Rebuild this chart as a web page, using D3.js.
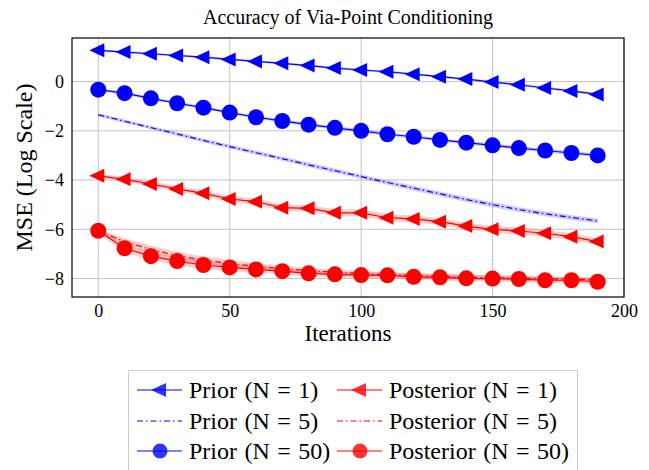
<!DOCTYPE html>
<html>
<head>
<meta charset="utf-8">
<script src="https://cdn.jsdelivr.net/npm/d3@7"></script>
<style>
  body { margin: 0; background: #fff; }
  svg { display: block; }
  svg text { font-family: "Liberation Serif", "Times New Roman", Tinos, "DejaVu Serif", serif !important; }
</style>
</head>
<body>
<svg id="chart" width="649" height="470"></svg>
<script>
// iterations (x) shared by all series
const iterations = [0, 10, 20, 30, 40, 50, 60, 70, 80, 90, 100, 110, 120, 130, 140, 150, 160, 170, 180, 190];

// log MSE means
const priorN1 = [1.27, 1.2, 1.13, 1.06, 0.99, 0.9, 0.82, 0.74, 0.65, 0.55, 0.47, 0.4, 0.3, 0.2, 0.1, -0.02, -0.13, -0.26, -0.38, -0.52];
const priorN5 = [-1.35, -1.61, -1.87, -2.13, -2.39, -2.64, -2.89, -3.13, -3.38, -3.62, -3.86, -4.1, -4.33, -4.56, -4.79, -5.0, -5.2, -5.37, -5.52, -5.66];
const priorN50 = [-0.33, -0.47, -0.68, -0.88, -1.06, -1.26, -1.45, -1.6, -1.75, -1.88, -2.0, -2.14, -2.24, -2.37, -2.48, -2.59, -2.7, -2.8, -2.9, -3.0];
const postN1 = [-3.83, -3.97, -4.16, -4.36, -4.54, -4.77, -4.88, -5.12, -5.15, -5.33, -5.33, -5.53, -5.58, -5.69, -5.87, -6.0, -6.07, -6.16, -6.3, -6.5];
const postN5 = [-6.06, -6.5, -6.82, -7.07, -7.25, -7.39, -7.5, -7.6, -7.68, -7.74, -7.8, -7.84, -7.88, -7.91, -7.94, -7.97, -7.99, -8.01, -8.03, -8.05];
const postN50 = [-6.06, -6.77, -7.09, -7.29, -7.45, -7.55, -7.63, -7.7, -7.79, -7.83, -7.86, -7.87, -7.93, -7.95, -7.99, -8.0, -8.02, -8.07, -8.07, -8.13];

// spread (half width of shaded band)
const priorN1Spread = [0.05, 0.05, 0.05, 0.05, 0.05, 0.05, 0.05, 0.05, 0.05, 0.05, 0.05, 0.05, 0.05, 0.05, 0.05, 0.05, 0.05, 0.05, 0.05, 0.06];
const priorN5Spread = [0.07, 0.07, 0.07, 0.08, 0.08, 0.08, 0.08, 0.09, 0.09, 0.09, 0.09, 0.09, 0.1, 0.1, 0.1, 0.1, 0.1, 0.1, 0.1, 0.1];
const priorN50Spread = [0.06, 0.06, 0.06, 0.06, 0.06, 0.06, 0.06, 0.07, 0.07, 0.07, 0.07, 0.07, 0.07, 0.07, 0.07, 0.08, 0.08, 0.08, 0.08, 0.08];
const postN1Spread = [0.08, 0.1, 0.1, 0.12, 0.12, 0.12, 0.13, 0.13, 0.13, 0.14, 0.14, 0.14, 0.14, 0.14, 0.14, 0.14, 0.14, 0.14, 0.14, 0.14];
const postN5Spread = [0.08, 0.14, 0.16, 0.16, 0.15, 0.14, 0.13, 0.12, 0.12, 0.11, 0.11, 0.1, 0.1, 0.1, 0.1, 0.1, 0.1, 0.1, 0.1, 0.1];
const postN50Spread = [0.1, 0.16, 0.18, 0.17, 0.16, 0.15, 0.14, 0.13, 0.13, 0.12, 0.12, 0.12, 0.12, 0.12, 0.12, 0.12, 0.12, 0.12, 0.12, 0.12];

const xTicks = [0, 50, 100, 150, 200];
const yTicks = [-8, -6, -4, -2, 0];

const series = [
    { name: "Prior (N = 1)", values: priorN1, spread: priorN1Spread, color: "#0000ff", marker: "triangle", dash: null },
    { name: "Posterior (N = 1)", values: postN1, spread: postN1Spread, color: "#ff0000", marker: "triangle", dash: null },
    { name: "Prior (N = 5)", values: priorN5, spread: priorN5Spread, color: "#0000ff", marker: null, dash: "6,3,1.5,3" },
    { name: "Posterior (N = 5)", values: postN5, spread: postN5Spread, color: "#ff0000", marker: null, dash: "6,3,1.5,3" },
    { name: "Prior (N = 50)", values: priorN50, spread: priorN50Spread, color: "#0000ff", marker: "circle", dash: null },
    { name: "Posterior (N = 50)", values: postN50, spread: postN50Spread, color: "#ff0000", marker: "circle", dash: null },
];

const svg = d3.select("#chart");
const margin = { left: 72, top: 38, right: 624, bottom: 297 };

const x = d3.scaleLinear().domain([-10, 200]).range([margin.left, margin.right]);
const y = d3.scaleLinear().domain([-8.75, 1.77]).range([margin.bottom, margin.top]);

// grid
svg.append("g")
    .selectAll("line.vgrid")
    .data(xTicks)
    .join("line")
    .attr("x1", d => x(d)).attr("x2", d => x(d))
    .attr("y1", margin.top).attr("y2", margin.bottom)
    .attr("stroke", "#c4c4c4").attr("stroke-width", 1);
svg.append("g")
    .selectAll("line.hgrid")
    .data(yTicks)
    .join("line")
    .attr("x1", margin.left).attr("x2", margin.right)
    .attr("y1", d => y(d)).attr("y2", d => y(d))
    .attr("stroke", "#c4c4c4").attr("stroke-width", 1);

// axes (ticks only as labels, like pgfplots)
const xAxis = d3.axisBottom(x).tickValues(xTicks).tickSize(0).tickPadding(7).tickFormat(d3.format("d"));
svg.append("g")
    .attr("transform", `translate(0,${margin.bottom})`)
    .call(xAxis)
    .call(g => g.select(".domain").remove())
    .selectAll("text")
    .attr("font-size", 18)
    .attr("fill", "#000");

const yAxis = d3.axisLeft(y).tickValues(yTicks).tickSize(0).tickPadding(8)
    .tickFormat(d => d < 0 ? "\u2212" + Math.abs(d) : d);
svg.append("g")
    .attr("transform", `translate(${margin.left},0)`)
    .call(yAxis)
    .call(g => g.select(".domain").remove())
    .selectAll("text")
    .attr("font-size", 18)
    .attr("fill", "#000");

// bands
const area = d3.area()
    .x((d, i) => x(iterations[i]))
    .y0(d => y(d[0] - d[1]))
    .y1(d => y(d[0] + d[1]));

svg.append("g")
    .selectAll("path")
    .data(series)
    .join("path")
    .attr("d", s => area(s.values.map((v, i) => [v, s.spread[i]])))
    .attr("fill", s => s.color)
    .attr("fill-opacity", 0.2)
    .attr("stroke", "none");

// lines
const line = d3.line()
    .x((d, i) => x(iterations[i]))
    .y(d => y(d));

svg.append("g")
    .selectAll("path")
    .data(series)
    .join("path")
    .attr("d", s => line(s.values))
    .attr("fill", "none")
    .attr("stroke", s => s.color)
    .attr("stroke-width", 1.2)
    .attr("stroke-dasharray", s => s.dash);

// markers
const triPath = "M-9,0L6,-7L6,7Z";
function drawMarker(g, type, color, r) {
    if (type === "triangle") {
        g.append("path").attr("d", triPath).attr("fill", color);
    } else if (type === "circle") {
        g.append("circle").attr("r", r).attr("fill", color);
    }
}

series.filter(s => s.marker).forEach(s => {
    svg.append("g")
        .selectAll("g")
        .data(s.values)
        .join("g")
        .attr("transform", (d, i) => `translate(${x(iterations[i])},${y(d)})`)
        .each(function () { drawMarker(d3.select(this), s.marker, s.color, 8); });
});

// frame
svg.append("rect")
    .attr("x", margin.left).attr("y", margin.top)
    .attr("width", margin.right - margin.left)
    .attr("height", margin.bottom - margin.top)
    .attr("fill", "none")
    .attr("stroke", "#000")
    .attr("stroke-width", 1.2);

// title and labels
svg.append("text")
    .attr("x", (margin.left + margin.right) / 2)
    .attr("y", 24)
    .attr("text-anchor", "middle")
    .attr("font-size", 20)
    .text("Accuracy of Via-Point Conditioning");

svg.append("text")
    .attr("x", (margin.left + margin.right) / 2)
    .attr("y", 341)
    .attr("text-anchor", "middle")
    .attr("font-size", 23)
    .text("Iterations");

svg.append("text")
    .attr("transform", `translate(32,${(margin.top + margin.bottom) / 2}) rotate(-90)`)
    .attr("text-anchor", "middle")
    .attr("font-size", 24)
    .text("MSE (Log Scale)");

// legend
const legend = svg.append("g");
legend.append("rect")
    .attr("x", 128.5).attr("y", 370.5)
    .attr("width", 449).attr("height", 110)
    .attr("fill", "#fff")
    .attr("stroke", "#cccccc")
    .attr("stroke-width", 1);

const colX = [137, 337];
const rowY = [390, 421, 451];
series.forEach((s, i) => {
    const cx = colX[i % 2], cy = rowY[Math.floor(i / 2)];
    const item = legend.append("g").attr("transform", `translate(${cx},${cy})`);
    item.append("line")
        .attr("x1", 0).attr("x2", 45)
        .attr("y1", 0).attr("y2", 0)
        .attr("stroke", s.color)
        .attr("stroke-width", 1.2)
        .attr("stroke-dasharray", s.dash);
    const m = item.append("g").attr("transform", "translate(23,0)").attr("opacity", 0.8);
    drawMarker(m, s.marker, s.color, 7.5);
    item.append("text")
        .attr("x", 52).attr("y", 8)
        .attr("font-size", 24)
        .attr("word-spacing", 1.5)
        .text(s.name);
});
</script>
</body>
</html>
